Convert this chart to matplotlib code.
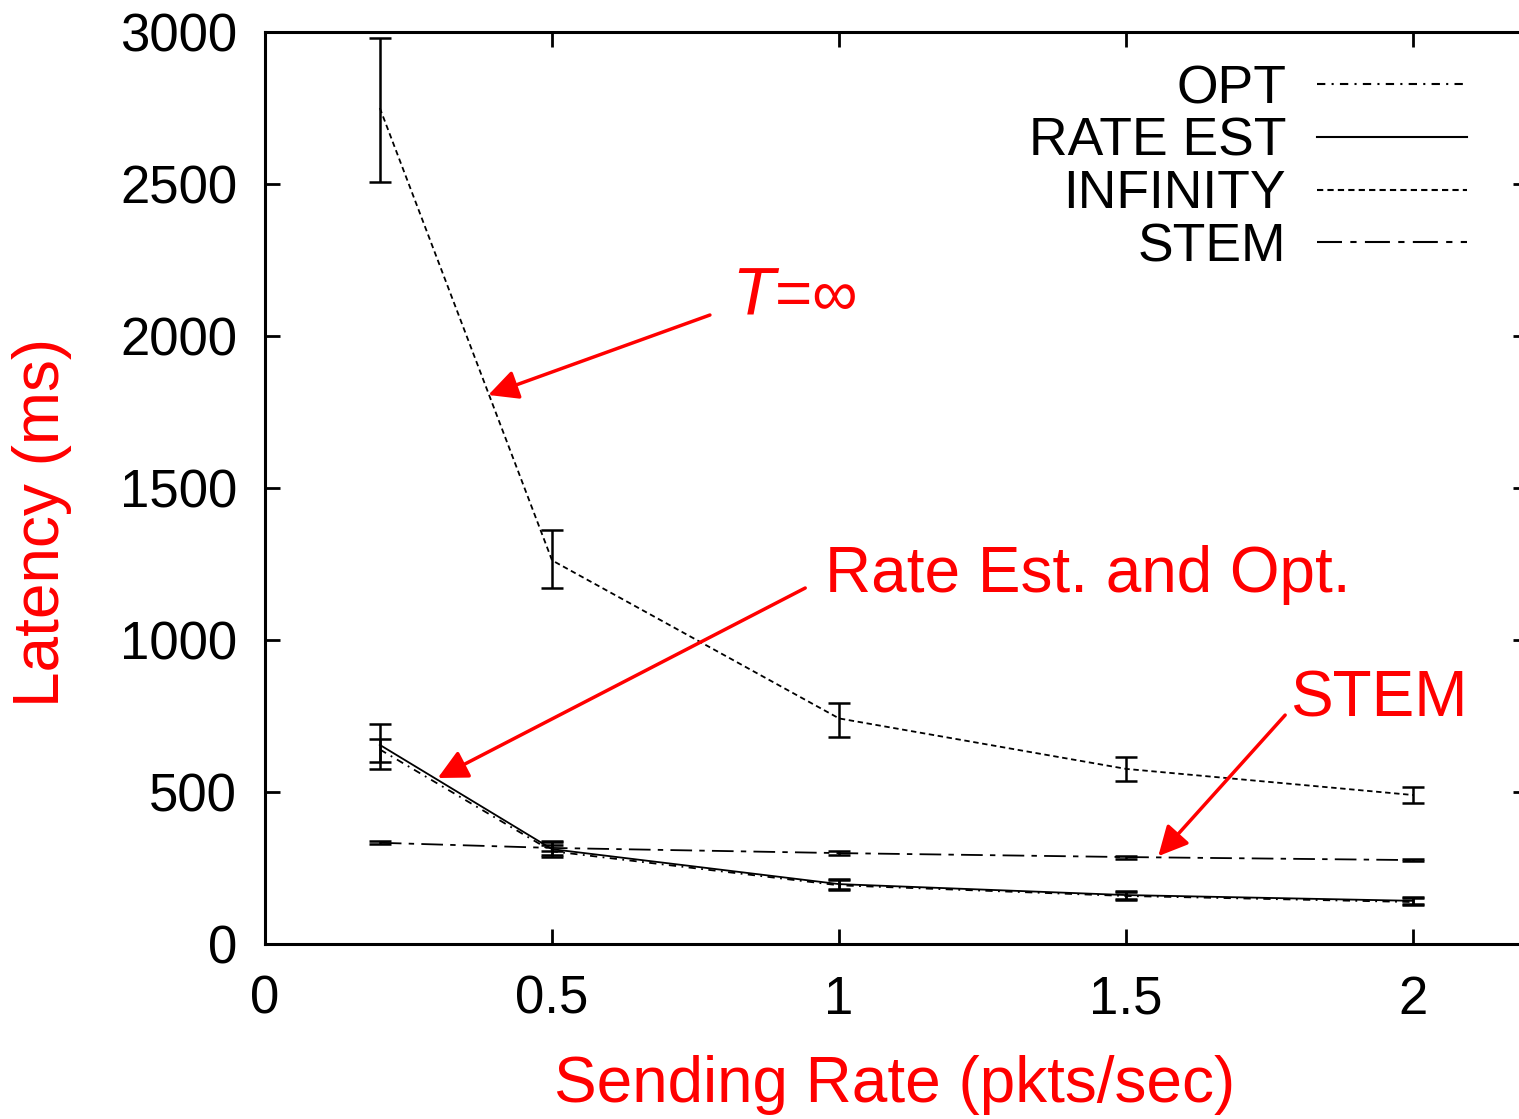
import matplotlib.pyplot as plt
import numpy as np

# --- data ---
rate = [0.2, 0.5, 1.0, 1.5, 2.0]

opt_lat = [640, 305, 193, 158, 138]
opt_lo = [575, 285, 178, 145, 128]
opt_hi = [725, 335, 212, 172, 150]

rest_lat = [655, 312, 197, 161, 142]
rest_lo = [600, 292, 182, 148, 131]
rest_hi = [675, 338, 214, 175, 155]

inf_lat = [2750, 1262, 742, 576, 490]
inf_lo = [2505, 1172, 682, 537, 465]
inf_hi = [2980, 1362, 793, 614, 517]

stem_lat = [333, 316, 299, 286, 276]
stem_lo = [328, 306, 293, 281, 272]
stem_hi = [338, 326, 305, 291, 280]

xticks = [0, 0.5, 1, 1.5, 2]
xticklabels = ['0', '0.5', '1', '1.5', '2']
yticks = [0, 500, 1000, 1500, 2000, 2500, 3000]

plt.rcParams['font.family'] = ['Liberation Sans', 'DejaVu Sans']

fig = plt.figure(figsize=(15.19, 11.19), dpi=100)
# right edge of the frame lies just past the picture, as in the reference
ax = fig.add_axes([265/1519, 175/1119, 1263/1519, 912/1119])


def draw(y, lo, hi, ls, label):
    y = np.array(y)
    yerr = [y - np.array(lo), np.array(hi) - y]
    c = ax.errorbar(rate, y, yerr=yerr, color='black', lw=1.3, ls=ls,
                    elinewidth=1.8, capsize=8, capthick=1.8, label=label)
    return c.lines[0]


handles = [
    draw(opt_lat, opt_lo, opt_hi, (0, (4, 3, 1, 3)), 'OPT'),
    draw(rest_lat, rest_lo, rest_hi, '-', 'RATE EST'),
    draw(inf_lat, inf_lo, inf_hi, (0, (3, 2)), 'INFINITY'),
    draw(stem_lat, stem_lo, stem_hi, (0, (12, 4, 3, 4)), 'STEM'),
]

ax.set_xlim(0, 2.2)
ax.set_ylim(0, 3000)
ax.set_xticks(xticks)
ax.set_xticklabels(xticklabels)
ax.set_yticks(yticks)
ax.tick_params(direction='in', length=11, width=2, top=True, right=True,
               labelsize=38)
ax.tick_params(axis='x', pad=22)
ax.tick_params(axis='y', pad=20)
for sp in ax.spines.values():
    sp.set_linewidth(2.2)

leg = ax.legend(handles=handles, labels=['OPT', 'RATE EST', 'INFINITY', 'STEM'],
                loc='upper right', bbox_to_anchor=(0.977, 1.0),
                frameon=False, markerfirst=False, fontsize=38.5,
                handlelength=2.8, handletextpad=0.58, labelspacing=0.05,
                borderpad=0.1)
for h in leg.legend_handles:
    h.set_linewidth(1.5)

# --- red annotations ---
arrow = dict(arrowstyle='-|>', color='red', lw=2.5, mutation_scale=45,
             shrinkA=0, shrinkB=0)
ax.annotate('', xy=(0.389, 1806), xytext=(0.775, 2069), arrowprops=arrow)
ax.text(0.819, 2125, r'$\mathit{T}$=∞', color='red', fontsize=46,
        ha='left', va='center')
ax.annotate('', xy=(0.301, 546), xytext=(0.941, 1171), arrowprops=arrow)
ax.text(0.976, 1214, 'Rate Est. and Opt.', color='red', fontsize=46,
        ha='left', va='center')
ax.annotate('', xy=(1.556, 289), xytext=(1.777, 753), arrowprops=arrow)
ax.text(1.786, 803, 'STEM', color='red', fontsize=46,
        ha='left', va='center')

fig.text(42/1519, 1 - 522/1119, 'Latency (ms)', color='red', fontsize=46,
         rotation=90, ha='center', va='center')
fig.text(895/1519, 1 - 1085/1119, 'Sending Rate (pkts/sec)', color='red',
         fontsize=46, ha='center', va='center')

fig.savefig('out.png', dpi=100)
